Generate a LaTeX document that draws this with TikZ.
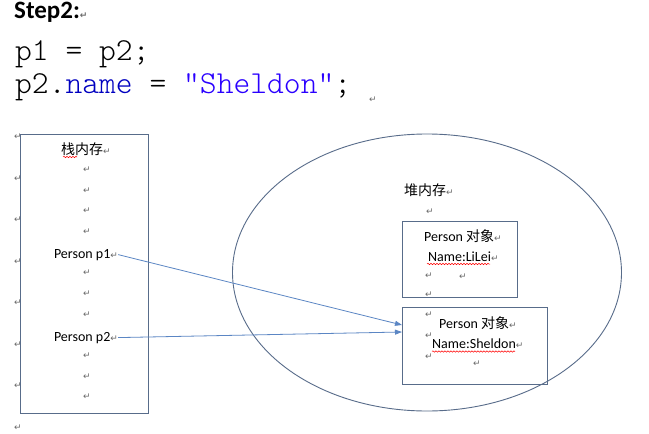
\documentclass[tikz,border=0pt]{standalone}
\usepackage{fontspec}
\setmainfont{Carlito}
\newfontfamily\cjk{Noto Sans CJK SC}
\newfontfamily\markfont{DejaVu Sans}
\newfontfamily\codefont{Latin Modern Mono Light}
\usetikzlibrary{arrows.meta,decorations.pathmorphing}

\definecolor{framegray}{RGB}{88,108,138}
\definecolor{linkblue}{RGB}{91,134,196}
\definecolor{markgray}{RGB}{105,105,105}
\definecolor{fieldblue}{RGB}{0,0,192}
\definecolor{stringblue}{RGB}{42,0,255}
\newcommand{\ret}{{\markfont\fontsize{9}{9}\selectfont\textcolor{markgray}{↵}}}

\begin{document}
\begin{tikzpicture}[x=1pt,y=-1pt]
  \tikzstyle{every node}+=[inner sep=0pt]
  \tikzset{
    frame/.style={draw=framegray, line width=0.9pt},
    body/.style={font=\fontsize{14}{14}\selectfont},
    code/.style={font=\codefont\fontsize{32}{32}\selectfont},
    link/.style={draw=linkblue, line width=0.8pt, -{Triangle[length=7pt,width=5pt]}},
    spell/.style={draw=red, line width=0.5pt, decorate,
      decoration={snake, amplitude=0.7pt, segment length=3pt}}
  }
  \fill[white] (0,0) rectangle (649,434);
  \useasboundingbox (0,0) rectangle (649,434);
  % heading and code
  \node[anchor=base west, font=\fontsize{25}{25}\selectfont\bfseries] (step) at (14,18.5) {Step2:\ret};
  \node[anchor=base west, code] (line1) at (15,60) {p1 = p2;};
  \node[anchor=base west, code] (line2) at (15,93)
    {p2.\textcolor{fieldblue}{name} = \textcolor{stringblue}{"Sheldon"};};
  \node at (373,100) {\ret};
  % stack
  \node[frame, minimum width=128, minimum height=279] (stack) at (84,273.5) {};
  \node[body, anchor=base] (stacktitle) at (86,154) {\cjk 栈内存\ret};
  \draw[spell] (63,157) -- (77,157);
  \foreach \i in {1,2,3,4,6,7,8,10,11,12}
    \node at (87,149+20.67*\i) {\ret};
  \node[body, anchor=base] (p1) at (86,258) {Person p1\ret};
  \node[body, anchor=base] (p2) at (86,341) {Person p2\ret};
  \foreach \k in {0,...,7}
    \node at (18,137+41.5*\k) {\ret};
  % heap
  \draw[frame] (427,272.5) ellipse [x radius=194.5, y radius=138.5];
  \node[body, anchor=base west] (heaptitle) at (404,195) {\cjk 堆内存\ret};
  \node at (430,212) {\ret};
  \node[frame, minimum width=115, minimum height=76] (obj1) at (459.5,259) {};
  \node[body, anchor=base west] (type1) at (424,241) {Person {\cjk 对象}\ret};
  \node[body, anchor=base west] (lilei) at (428,261) {Name:LiLei\ret};
  \draw[spell] (427,264) -- (490,264);
  \node at (429,276) {\ret};
  \node at (463,277) {\ret};
  \node at (429,295) {\ret};
  \node[frame, minimum width=145, minimum height=77] (obj2) at (474.5,345.5) {};
  \node at (429,315) {\ret};
  \node[body, anchor=base west] (type2) at (439,328) {Person {\cjk 对象}\ret};
  \node at (429,336) {\ret};
  \node[body, anchor=base west] (sheldon) at (432,348) {Name:Sheldon\ret};
  \draw[spell] (432,351.5) -- (515,351.5);
  \node at (429,357) {\ret};
  \node at (477,364) {\ret};
  % references
  \coordinate (in1) at (402,325);
  \coordinate (in2) at (402,332);
  \draw[link] (p1.east) -- (in1);
  \draw[link] (p2.east) -- (in2);
\end{tikzpicture}
\end{document}
